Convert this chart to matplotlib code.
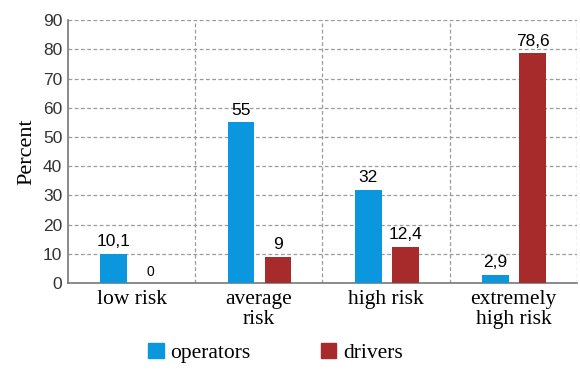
import numpy as np
import matplotlib.pyplot as plt
from matplotlib.patches import Patch

categories = ["low risk", "average\nrisk", "high risk", "extremely\nhigh risk"]
operators = [10.1, 55, 32, 2.9]
drivers = [0, 9, 12.4, 78.6]
op_labels = ["10,1", "55", "32", "2,9"]
dr_labels = ["0", "9", "12,4", "78,6"]

blue = "#0b97dd"
red = "#a72b2b"
grid_c = "#9a9a9a"

fig = plt.figure(figsize=(5.8, 3.72), dpi=100)
ax = fig.add_axes([0.117, 0.239, 0.878, 0.707])

x = np.arange(len(categories))
w = 0.21
ax.bar(x - 0.14, operators, w, color=blue, zorder=3)
ax.bar(x + 0.15, drivers, w, color=red, zorder=3)

for i in range(len(categories)):
    ax.text(x[i] - 0.14, operators[i] + 1.5, op_labels[i], ha="center", va="bottom",
            fontsize=12.5, family="Liberation Sans")
    fs = 10 if drivers[i] == 0 else 12.5
    ax.text(x[i] + 0.15, drivers[i] + 1.5, dr_labels[i], ha="center", va="bottom",
            fontsize=fs, family="Liberation Sans")

ax.set_xlim(-0.5, 3.5)
ax.set_ylim(0, 90)
ax.set_yticks(range(0, 91, 10))
ax.set_xticks(x)
ax.set_xticklabels(categories, family="Liberation Serif", fontsize=15.5, linespacing=1.05)
for lbl in ax.get_yticklabels():
    lbl.set_family("Liberation Sans")
    lbl.set_fontsize(12.5)
    lbl.set_color("#333333")
ax.tick_params(axis="both", length=0, pad=4)
ax.tick_params(axis="x", pad=5)

# grid
for yv in range(10, 91, 10):
    ax.axhline(yv, color=grid_c, lw=0.9, ls=(0, (3, 2)), zorder=1)
for xv in [0.5, 1.5, 2.5, 3.5]:
    ax.axvline(xv, color=grid_c, lw=0.9, ls=(0, (3, 2)), zorder=1)

for s in ["top", "right"]:
    ax.spines[s].set_visible(False)
for s in ["left", "bottom"]:
    ax.spines[s].set_color("#777777")
    ax.spines[s].set_linewidth(1.2)

ax.set_ylabel("Percent", family="Liberation Serif", fontsize=16, labelpad=5)

handles = [Patch(color=blue, label="operators"), Patch(color=red, label="drivers")]
leg = fig.legend(handles=handles, loc="center", bbox_to_anchor=(0.475, 0.052), ncol=2,
                 frameon=False, fontsize=15.5,
                 handlelength=0.7, handleheight=0.7, handletextpad=0.3, columnspacing=3.3)
for t in leg.get_texts():
    t.set_family("Liberation Serif")

fig.savefig("out.png", dpi=100)
